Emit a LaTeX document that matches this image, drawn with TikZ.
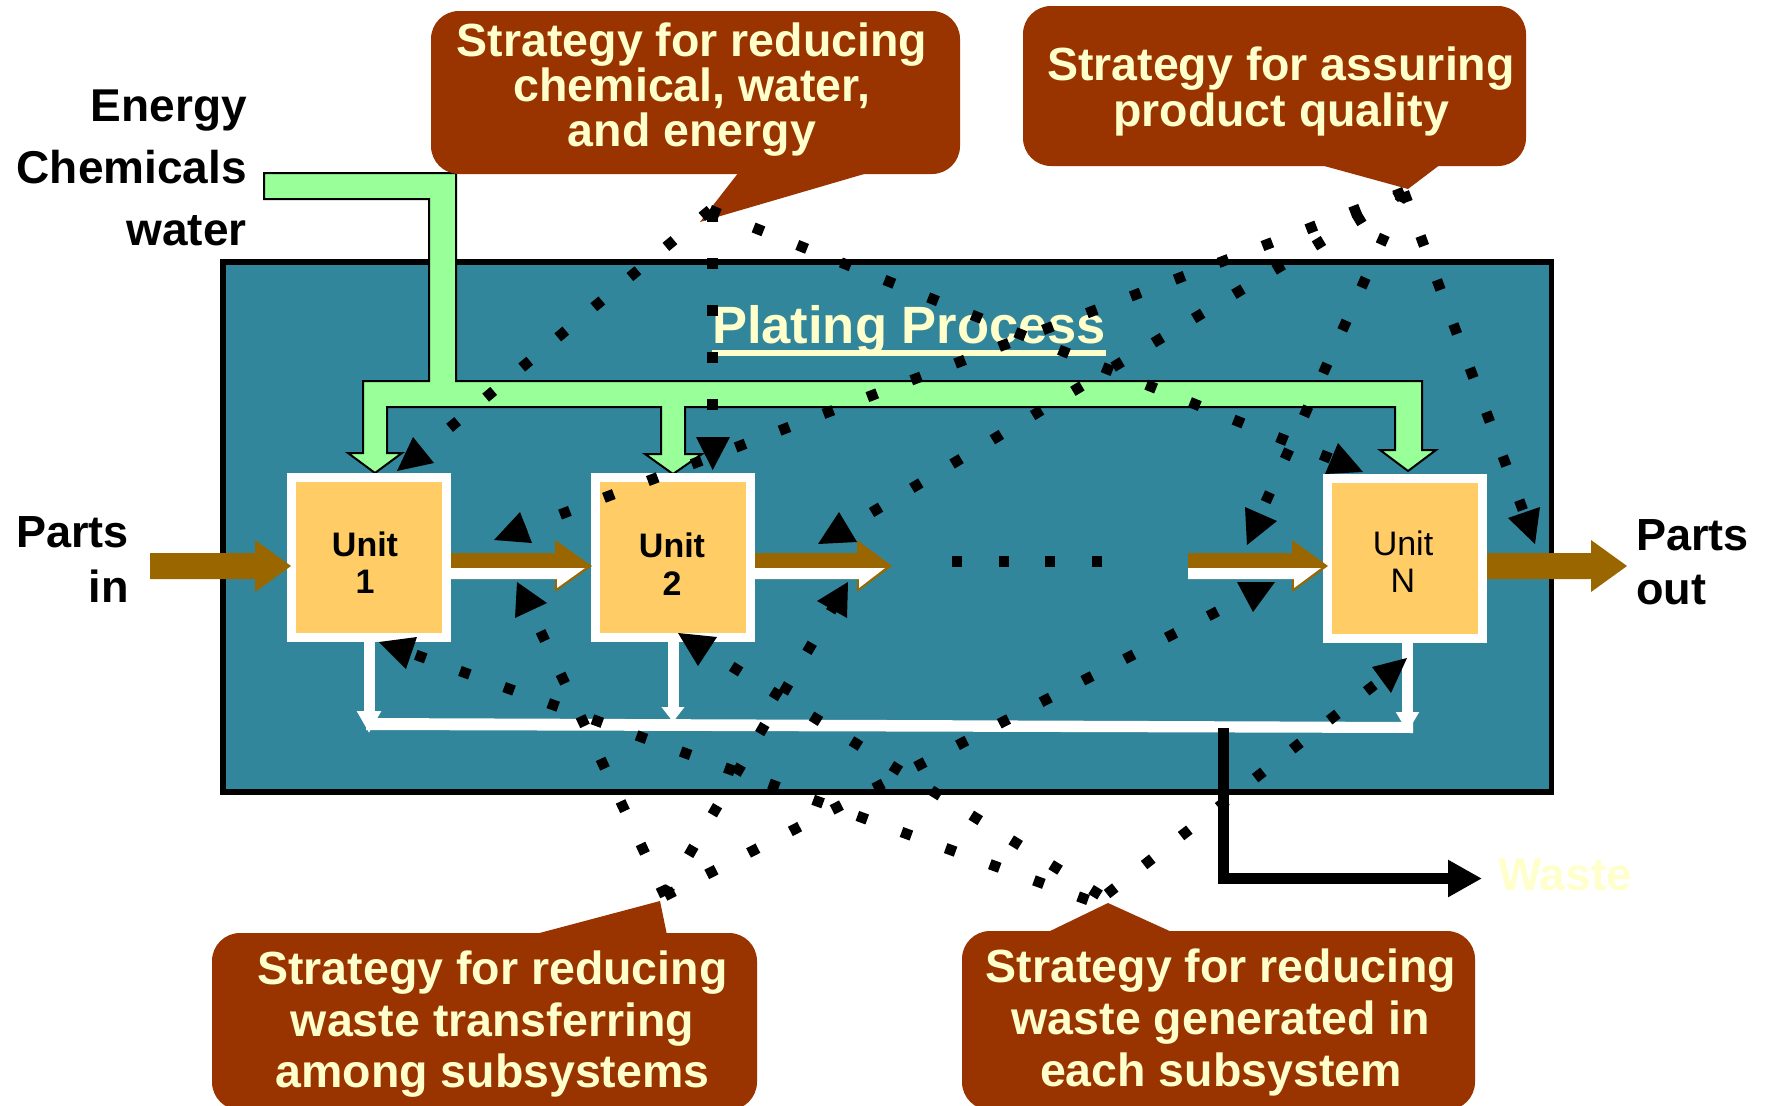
\documentclass[tikz,border=0pt]{standalone}
\usepackage{fontspec}
\setmainfont{Liberation Sans}
\usetikzlibrary{arrows.meta}

\definecolor{basin}{RGB}{50,134,155}
\definecolor{pipegreen}{RGB}{153,255,153}
\definecolor{unitfill}{RGB}{255,204,102}
\definecolor{flowbrown}{RGB}{153,102,0}
\definecolor{calloutred}{RGB}{153,51,0}
\definecolor{cream}{RGB}{255,255,204}

% brown part-flow arrow: body start, head base, apex x
\newcommand{\partflow}[3]{%
  \fill[flowbrown] (#1,553) -- (#2,553) -- (#2,540) -- (#3,566)
    -- (#2,592) -- (#2,579) -- (#1,579) -- cycle;}
% white lower half laid over a part-flow arrow
\newcommand{\flowsheen}[3]{%
  \fill[white] (#1,568) -- ({#3-7},568) -- ({#2+2},588)
    -- ({#2+2},579) -- (#1,579) -- cycle;}

\begin{document}
\begin{tikzpicture}[x=1pt,y=-1pt,
  basinbox/.style={draw=black, line width=5.5pt, fill=basin, inner sep=0pt,
    minimum width=1328.5pt, minimum height=530pt},
  unitbox/.style={draw=white, line width=9pt, fill=unitfill, inner sep=0pt,
    minimum width=155pt, minimum height=160pt},
  unitlabel/.style={anchor=north, align=center, inner sep=0pt,
    font=\fontsize{34}{37}\selectfont},
  calloutbox/.style={fill=calloutred, rounded corners=28pt, inner sep=0pt},
  callouttext/.style={anchor=north, align=center, inner sep=0pt, text=cream},
  sidelabel/.style={inner sep=0pt, font=\bfseries\fontsize{46}{62}\selectfont},
  strategylink/.style={line width=10.5pt, dash pattern=on 10.5pt off 36.5pt},
  drain/.style={draw=white, line width=11pt},
]
\useasboundingbox (0,0) rectangle (1765,1106);

% ---------- process basin ----------
\node[basinbox] (basin) at (887.25,527) {};

% ---------- supply pipes (energy, chemicals, water) ----------
\filldraw[fill=pipegreen, draw=black, line width=2pt, line join=miter]
  (264,173) -- (456,173) -- (456,381) -- (1422,381) -- (1422,450)
  -- (1436,450) -- (1408,471) -- (1380,450) -- (1395,450) -- (1395,407)
  -- (685,407) -- (685,454) -- (702,454) -- (673,474) -- (645,454)
  -- (661,454) -- (661,407) -- (387,407) -- (387,453) -- (402,453)
  -- (375,473) -- (348,453) -- (363,453) -- (363,381) -- (429,381)
  -- (429,199) -- (264,199) -- cycle;

% ---------- units ----------
\node[unitbox] (u1) at (369,557.5) {};
\node[unitbox] (u2) at (673,557) {};
\node[unitbox] (uN) at (1405,558.5) {};
\node[unitlabel, font=\bfseries\fontsize{34}{37}\selectfont] (u1text) at (365,531.5) {Unit\\1};
\node[unitlabel, font=\bfseries\fontsize{34}{38}\selectfont] (u2text) at (672,532.5) {Unit\\2};
\node[unitlabel] (uNtext) at (1403,530.5) {Unit\\N};

% ---------- part flow ----------
\partflow{150}{255}{291}
\partflow{451}{555}{592}\flowsheen{451}{555}{592}
\partflow{755}{857}{892}\flowsheen{755}{857}{892}
\partflow{1188}{1292}{1328}\flowsheen{1188}{1292}{1328}
\partflow{1487}{1591}{1627}

% further units
\coordinate (gapl) at (952,561.5);
\coordinate (gapr) at (1102,561.5);
\draw[line width=11pt, dash pattern=on 10pt off 36.7pt] (gapl) -- (gapr);

% ---------- waste collection ----------
\draw[drain, -{Triangle[length=22pt,width=23pt]}] (u1.south) -- (369,733);
\draw[drain, -{Triangle[length=15pt,width=22pt]}] (u2.south) -- (673,722);
\draw[drain, -{Triangle[length=20pt,width=22pt]}] ([xshift=2.5pt]uN.south) -- (1407.5,732);
\fill[white] (366,718) -- (1413,722) -- (1413,733) -- (366,730) -- cycle;

\coordinate (wastefrom) at (1223.5,728);
\coordinate (wasteto) at (1482,878.5);
\draw[line width=11pt, -{Triangle[length=34pt,width=35pt]}] (wastefrom) |- (wasteto);
\node[anchor=base west, inner sep=0pt, text=cream,
  font=\bfseries\fontsize{46}{50}\selectfont] (waste) at (1498,890) {Waste};

% ---------- titles and labels ----------
\node[anchor=base, inner sep=0pt, text=cream,
  font=\bfseries\fontsize{52.5}{60}\selectfont] (ptitle) at (909,343) {Plating Process};
\fill[cream] ([yshift=-6.5pt]ptitle.base west) rectangle ([yshift=-12.5pt]ptitle.base east);

\node[sidelabel, align=right, anchor=north east] (inputs) at (247,90)
  {Energy\\Chemicals\\water};
\node[sidelabel, align=right, anchor=north east,
  font=\bfseries\fontsize{45}{55}\selectfont] (partsin) at (129,516) {Parts\\in};
\node[sidelabel, align=left, anchor=north west,
  font=\bfseries\fontsize{45}{54}\selectfont] (partsout) at (1636,519) {Parts\\out};

% ---------- strategy callouts ----------
\node[calloutbox, minimum width=529pt, minimum height=163pt] (c1) at (695.5,92.5) {};
\coordinate (c1tip) at (700,222);
\fill[calloutred] (739,172) -- (c1tip) -- (871,172) -- cycle;
\node[callouttext, font=\bfseries\fontsize{46.5}{45}\selectfont] (c1text) at (692,23)
  {Strategy for reducing\\chemical, water,\\and energy};

\node[calloutbox, minimum width=503pt, minimum height=160pt] (c2) at (1274.5,86) {};
\coordinate (c2tip) at (1408,189);
\fill[calloutred] (1317,164) -- (c2tip) -- (1441,164) -- cycle;
\node[callouttext, font=\bfseries\fontsize{46.5}{46}\selectfont] (c2text) at (1281,47)
  {Strategy for assuring\\product quality};

\node[calloutbox, minimum width=545pt, minimum height=177pt] (c3) at (484.5,1021.5) {};
\coordinate (c3tip) at (660,901);
\fill[calloutred] (532,935) -- (c3tip) -- (667,935) -- cycle;
\node[callouttext, font=\bfseries\fontsize{46.5}{51.5}\selectfont] (c3text) at (492.5,951)
  {Strategy for reducing\\waste transferring\\among subsystems};

\node[calloutbox, minimum width=513pt, minimum height=179pt] (c4) at (1218.5,1020.5) {};
\coordinate (c4tip) at (1108,903);
\fill[calloutred] (1046,933) -- (c4tip) -- (1174,933) -- cycle;
\node[callouttext, font=\bfseries\fontsize{46.5}{52}\selectfont] (c4text) at (1221,949)
  {Strategy for reducing\\waste generated in\\each subsystem};

% ---------- dotted strategy links ----------
\coordinate (s1) at (710,210);
\coordinate (s1v) at (712.7,211);
\coordinate (s2) at (1404,192);
\coordinate (s3) at (665,896);
\coordinate (s4a) at (1100,895);
\coordinate (s4b) at (1088,900);
\coordinate (s4c) at (1107,894);

\coordinate (h1) at (414.7,457);
\coordinate (h2) at (712.7,448);
\coordinate (h3) at (1342,463);
\coordinate (h4) at (515.3,531.7);
\coordinate (h5) at (838,532.7);
\coordinate (h6) at (1256.3,523);
\coordinate (h7) at (1527.7,523);
\coordinate (h8) at (526.3,601);
\coordinate (h9) at (837.3,600.3);
\coordinate (h10) at (400.7,649.3);
\coordinate (h11) at (1255,592);
\coordinate (h12) at (1390,672.7);
\coordinate (h13) at (697.7,645.3);

\draw[strategylink] (s1) -- (h1);
\draw[strategylink] (s1v) -- (h2);
\draw[strategylink] (s1) -- (h3);
\draw[strategylink] (s2) -- (h4);
\draw[strategylink] (s2) -- (h5);
\draw[strategylink] (s2) -- (h6);
\draw[strategylink] (s2) -- (h7);
\draw[strategylink] (s3) -- (h8);
\draw[strategylink] (s3) -- (h9);
\draw[strategylink] (s3) -- (h11);
\draw[strategylink] (s4a) -- (h13);
\draw[strategylink] (s4b) -- (h10);
\draw[strategylink] (s4c) -- (h12);

% link heads
\fill (413,437) -- (397,471) -- (434,463) -- cycle;
\fill (696,437) -- (730,437) -- (712.7,470) -- cycle;
\fill (1338,443) -- (1325,474) -- (1363,472) -- cycle;
\fill (520,512) -- (494,540) -- (532,543) -- cycle;
\fill (839,512) -- (818,544) -- (857,542) -- cycle;
\fill (1245,507) -- (1247,545) -- (1277,521) -- cycle;
\fill (1508,518) -- (1540,507) -- (1535,544) -- cycle;
\fill (517,582) -- (515,618) -- (547,603) -- cycle;
\fill (817,601) -- (848,582) -- (847,618) -- cycle;
\fill (379,642) -- (417,637) -- (406,669) -- cycle;
\fill (1237,582) -- (1275,582) -- (1253,612) -- cycle;
\fill (1372,667) -- (1407,658) -- (1391,693) -- cycle;
\fill (678,633) -- (717,637) -- (698,666) -- cycle;
\end{tikzpicture}
\end{document}
